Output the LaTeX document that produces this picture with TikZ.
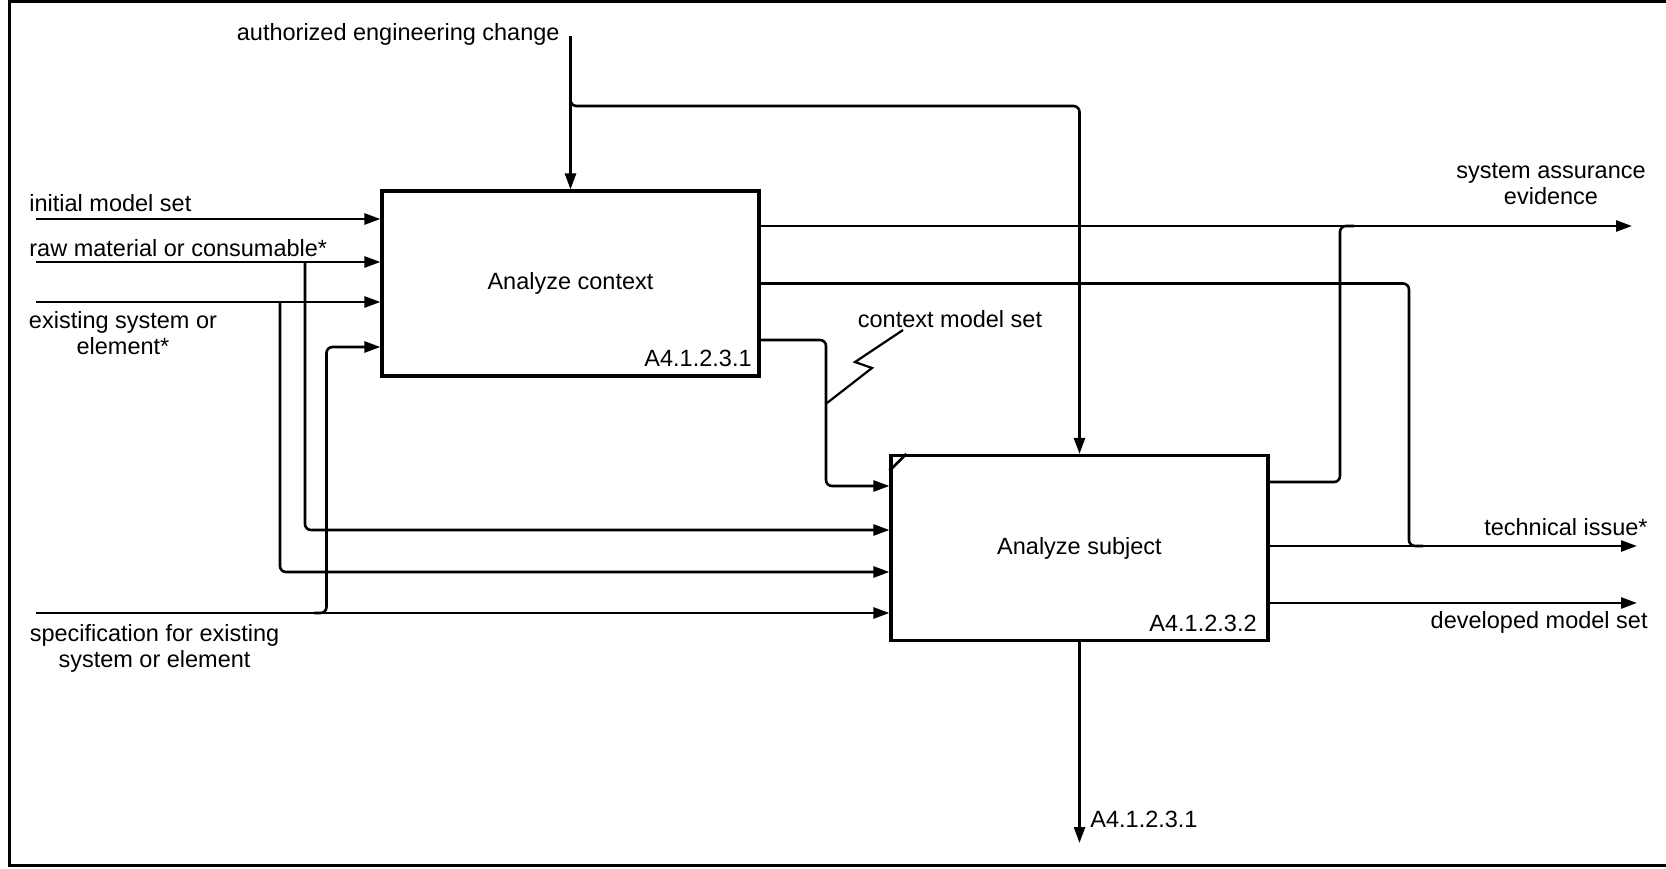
\documentclass[tikz,border=0pt]{standalone}
\usepackage{fontspec}
\setmainfont{Liberation Sans}
\usetikzlibrary{arrows.meta,calc}
\begin{document}
\begin{tikzpicture}[x=0.5pt,y=-0.5pt,
  every node/.style={font=\fontsize{11.75}{13}\selectfont, inner sep=0pt},
  box/.style={draw, line width=1.6pt, minimum width=188.5pt, minimum height=92.5pt},
  ln/.style={line width=1.3pt, rounded corners=3pt},
  arr/.style={ln, -{Triangle[length=8pt,width=5.5pt]}},
  lbl/.style={align=center}]
\useasboundingbox (0,0) rectangle (1666,868);
\draw[line width=1.5pt] (1666,1.5) -- (9,1.5) -- (9,865) -- (1666,865);

% activity boxes
\node[box] (A1) at (570.5,283.5) {Analyze context};
\node[box] (A2) at (1079.5,548) {Analyze subject};
\node[anchor=east] (id1) at (752,358) {A4.1.2.3.1};
\node[anchor=east] (id2) at (1257,623) {A4.1.2.3.2};
\draw[line width=1.3pt] ($(A2.north west)+(0,17)$) -- ($(A2.north west)+(17,0)$);

% free ends and junctions
\coordinate (in1) at (36,219);
\coordinate (in2) at (36,262);
\coordinate (in3) at (36,302);
\coordinate (in4) at (36,613);
\coordinate (ctl) at (570.5,36);
\coordinate (c1) at (570.5,96);
\coordinate (cb) at (1079.5,106);
\coordinate (j2) at (305,262);
\coordinate (j2b) at (305,530);
\coordinate (j3) at (280,302);
\coordinate (j3b) at (280,572);
\coordinate (j4) at (314,613);
\coordinate (j4b) at (326.5,347);
\coordinate (out1) at (1632,226);
\coordinate (out2) at (1637,546);
\coordinate (out3) at (1637,603);
\coordinate (r1) at (1340,226);
\coordinate (r2) at (1409,546);
\coordinate (r3) at (826,340);
\coordinate (r3b) at (826,486);
\coordinate (mech) at (1079.5,843);

% inputs
\draw[arr] (in1) -- (in1 -| A1.west);
\draw[arr] (in2) -- (in2 -| A1.west);
\draw[arr] (in3) -- (in3 -| A1.west);
\draw[arr] (in4) -- (in4 -| A2.west);
\draw[arr] (j2) -- (j2b) -- (j2b -| A2.west);
\draw[arr] (j3) -- (j3b) -- (j3b -| A2.west);
\draw[arr] (j4) -| (j4b) -- (j4b -| A1.west);

% control
\draw[arr] (ctl) -- (ctl |- A1.north);
\draw[arr] (c1) |- (cb) -- (A2.north);

% outputs
\draw[arr] (A1.east |- out1) -- (out1);
\draw[ln] ([yshift=33pt]A2.east) -| (r1) -- ++(14,0);
\draw[ln] (A1.east) -| (r2) -- ++(14,0);
\draw[arr] (A2.east |- out2) -- (out2);
\draw[arr] (A2.east |- out3) -- (out3);
\draw[arr] (A1.east |- r3) -- (r3) -- (r3b) -- (r3b -| A2.west);
\draw[arr] (A2.south) -- (mech);

% labels
\node[anchor=east] (lctl) at (560,34) {authorized engineering change};
\node[anchor=west] (lin1) at (29,203) {initial model set};
\node[anchor=west] (lin2) at (29,248) {raw material or consumable*};
\node[lbl] (lin3) at (123,333) {existing system or\\element*};
\node[lbl] (lin4) at (154.5,648) {specification for existing\\system or element};
\node[lbl] (lout1) at (1551,184) {system assurance\\evidence};
\node[anchor=east] (lout2) at (1648,527) {technical issue*};
\node[anchor=east] (lout3) at (1648,622) {developed model set};
\node (lcms) at (950,319) {context model set};
\node[anchor=west] (lmech) at (1090,819) {A4.1.2.3.1};
\draw[line width=1.1pt] (903,330) -- (855,362) -- (872,368) -- (827,403);
\end{tikzpicture}
\end{document}
